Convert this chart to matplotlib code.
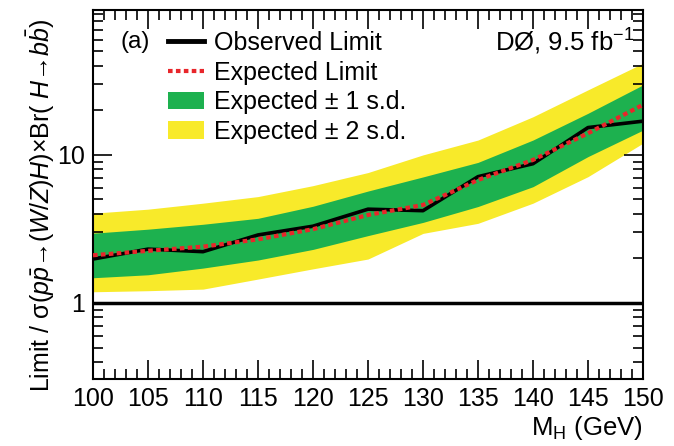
import matplotlib
matplotlib.use("Agg")
import matplotlib.pyplot as plt
from matplotlib.lines import Line2D
from matplotlib.patches import Patch
from matplotlib.ticker import MultipleLocator, LogLocator, FixedLocator, NullFormatter

plt.rcParams['font.family'] = ['Liberation Sans', 'DejaVu Sans']
plt.rcParams['mathtext.fontset'] = 'custom'
plt.rcParams['mathtext.rm'] = 'Liberation Sans'
plt.rcParams['mathtext.it'] = 'Liberation Sans:italic'
plt.rcParams['mathtext.bf'] = 'Liberation Sans:bold'

# Higgs mass points (GeV)
mass = [100, 105, 110, 115, 120, 125, 130, 135, 140, 145, 150]

# limits relative to SM
observed = [1.98, 2.31, 2.22, 2.88, 3.30, 4.30, 4.20, 7.13, 8.72, 15.3, 16.9]
expected = [2.10, 2.25, 2.40, 2.69, 3.15, 3.93, 4.59, 6.77, 9.25, 14.0, 21.8]
sd1_up = [2.96, 3.15, 3.40, 3.73, 4.50, 5.70, 7.10, 8.90, 12.6, 19.1, 29.7]
sd1_down = [1.48, 1.55, 1.72, 1.95, 2.30, 2.85, 3.50, 4.48, 6.10, 9.74, 14.7]
sd2_up = [4.04, 4.30, 4.72, 5.23, 6.20, 7.60, 10.0, 12.6, 18.1, 27.5, 41.6]
sd2_down = [1.19, 1.21, 1.24, 1.45, 1.70, 1.98, 2.95, 3.45, 4.72, 7.13, 12.0]

green = '#1db14f'
yellow = '#f8ea2a'
red = '#e8262b'

fig = plt.figure(figsize=(6.74, 4.46), dpi=100)
ax = fig.add_axes([0.138, 0.150, 0.816, 0.828])

ax.fill_between(mass, sd2_down, sd2_up, color=yellow, lw=0, zorder=1)
ax.fill_between(mass, sd1_down, sd1_up, color=green, lw=0, zorder=2)
ax.plot(mass, observed, color='black', lw=2.6, zorder=3)
ax.plot(mass, expected, color=red, lw=3, linestyle=(0, (1.1, 0.8)), zorder=4)
ax.axhline(1, color='black', lw=2.5, zorder=5)

ax.set_yscale('log')
ax.set_xlim(100, 150)
ax.set_ylim(0.306, 95.5)

ax.xaxis.set_major_locator(MultipleLocator(5))
ax.xaxis.set_minor_locator(MultipleLocator(1))
ax.yaxis.set_major_locator(FixedLocator([1, 10]))
ax.yaxis.set_major_formatter(plt.FixedFormatter(['1', '10']))
ax.yaxis.set_minor_locator(LogLocator(base=10, subs=range(2, 10)))
ax.yaxis.set_minor_formatter(NullFormatter())

ax.tick_params(which='both', direction='in', top=True, right=True, width=1.2)
ax.tick_params(which='major', length=14, labelsize=18, pad=6)
ax.tick_params(which='minor', length=7)
for s in ax.spines.values():
    s.set_linewidth(1.5)

ax.set_ylabel(r"Limit / σ($p\bar{p}$→($W$/$Z$)$H$)×Br( $H$→$b\bar{b}$)",
              fontsize=18)
ax.yaxis.set_label_coords(-0.066, 0.47)
ax.set_xlabel(r"M$_{\rm H}$ (GeV)", fontsize=18.5, loc='right', labelpad=2)

ax.text(0.05, 0.913, "(a)", transform=ax.transAxes, fontsize=17.5, va='center')
ax.text(0.985, 0.913, r"DØ, 9.5 fb$^{\mathregular{-1}}$", transform=ax.transAxes,
        fontsize=18.5, va='center', ha='right')

handles = [Line2D([], [], color='black', lw=3.5),
           Line2D([], [], color=red, lw=3, linestyle=(0, (1.1, 0.8))),
           Patch(facecolor=green, edgecolor='none'),
           Patch(facecolor=yellow, edgecolor='none')]
labels = ["Observed Limit", "Expected Limit",
          "Expected ± 1 s.d.", "Expected ± 2 s.d."]
ax.legend(handles, labels, loc='upper left', bbox_to_anchor=(0.136, 0.942),
          frameon=False, fontsize=18, handlelength=1.45, handletextpad=0.4,
          labelspacing=0.22, borderpad=0, borderaxespad=0)

plt.savefig("out.png", dpi=100)
plt.close()
